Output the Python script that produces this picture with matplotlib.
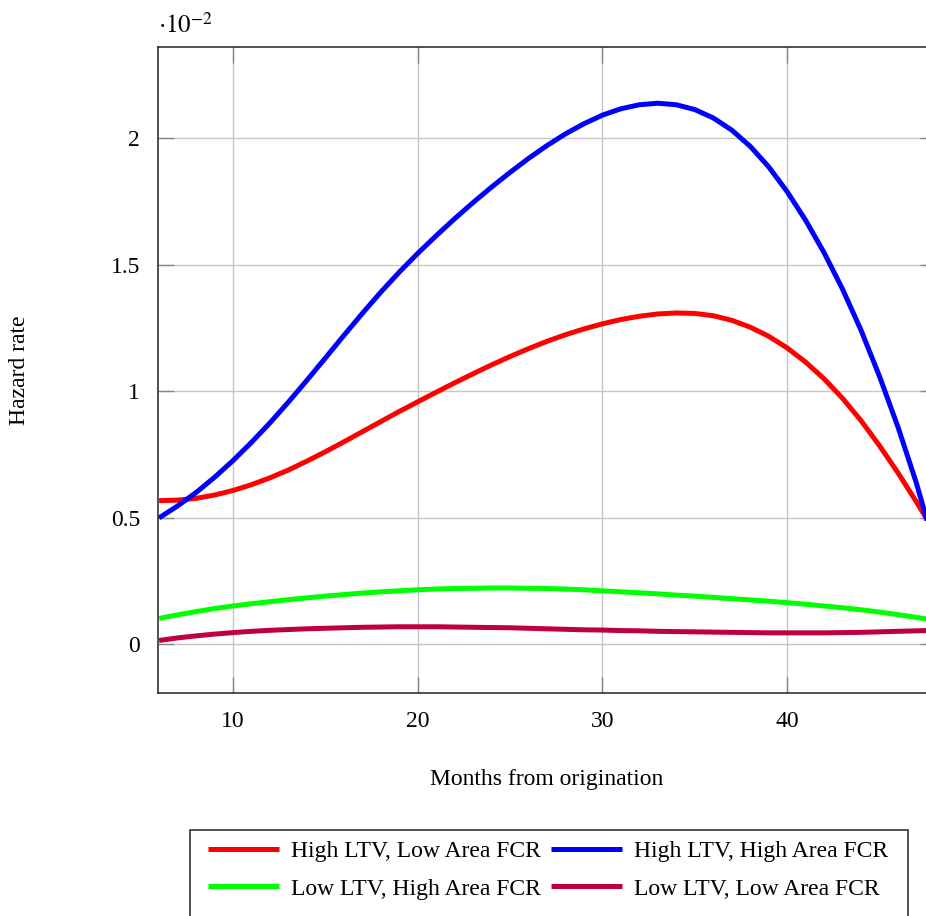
import matplotlib.pyplot as plt
from matplotlib.patches import Rectangle

# months from origination
months = [6, 7, 8, 9, 10, 11, 12, 13, 14, 15, 16, 17, 18, 19, 20, 21, 22, 23, 24, 25,
          26, 27, 28, 29, 30, 31, 32, 33, 34, 35, 36, 37, 38, 39, 40, 41, 42, 43, 44,
          45, 46, 47, 47.5, 48]

# hazard rate, in units of 1e-2
high_ltv_low_fcr = [0.568, 0.570, 0.577, 0.590, 0.608, 0.631, 0.658, 0.689, 0.724, 0.761,
                    0.800, 0.840, 0.880, 0.920, 0.958, 0.996, 1.033, 1.069, 1.104, 1.137,
                    1.168, 1.197, 1.223, 1.246, 1.266, 1.283, 1.296, 1.305, 1.309, 1.307,
                    1.298, 1.280, 1.253, 1.217, 1.171, 1.115, 1.049, 0.972, 0.884, 0.785,
                    0.678, 0.563, 0.503, 0.440]
high_ltv_high_fcr = [0.500, 0.547, 0.600, 0.660, 0.726, 0.798, 0.875, 0.957, 1.043, 1.131,
                     1.220, 1.307, 1.391, 1.470, 1.544, 1.614, 1.681, 1.745, 1.806, 1.864,
                     1.919, 1.970, 2.016, 2.056, 2.090, 2.115, 2.131, 2.137, 2.131, 2.112,
                     2.079, 2.031, 1.967, 1.886, 1.788, 1.675, 1.547, 1.403, 1.241, 1.059,
                     0.859, 0.637, 0.509, 0.374]
low_ltv_high_fcr = [0.103, 0.117, 0.130, 0.142, 0.152, 0.161, 0.169, 0.177, 0.184, 0.191,
                    0.197, 0.203, 0.208, 0.212, 0.216, 0.219, 0.221, 0.222, 0.223, 0.223,
                    0.222, 0.221, 0.219, 0.216, 0.212, 0.208, 0.204, 0.200, 0.195, 0.191,
                    0.186, 0.181, 0.176, 0.171, 0.165, 0.159, 0.152, 0.145, 0.137, 0.128,
                    0.118, 0.107, 0.101, 0.095]
low_ltv_low_fcr = [0.016, 0.026, 0.034, 0.041, 0.047, 0.052, 0.056, 0.059, 0.062, 0.064,
                   0.066, 0.068, 0.069, 0.070, 0.070, 0.070, 0.069, 0.068, 0.067, 0.066,
                   0.064, 0.062, 0.060, 0.058, 0.057, 0.055, 0.054, 0.052, 0.051, 0.050,
                   0.049, 0.048, 0.047, 0.046, 0.046, 0.046, 0.046, 0.047, 0.048, 0.050,
                   0.052, 0.054, 0.055, 0.056]

labels = ['High LTV, Low Area FCR', 'High LTV, High Area FCR',
          'Low LTV, High Area FCR', 'Low LTV, Low Area FCR']
colors = ['#ff0000', '#0000ff', '#00ff00', '#bf0040']

x_ticks = [10, 20, 30, 40]
y_ticks = [0, 0.5, 1, 1.5, 2]
y_tick_labels = ['0', '0.5', '1', '1.5', '2']

plt.rcParams['font.family'] = ['Liberation Serif', 'DejaVu Serif']
plt.rcParams['mathtext.fontset'] = 'stix'
plt.rc('font', size=17)

W, H = 926, 916
fig = plt.figure(figsize=(W / 100, H / 100), dpi=100)

# axes runs a little past the right edge, like the cropped original
left, right, top, bottom = 158, 936, 47, 693
ax = fig.add_axes([left / W, 1 - bottom / H, (right - left) / W, (bottom - top) / H])

series = [high_ltv_low_fcr, high_ltv_high_fcr, low_ltv_high_fcr, low_ltv_low_fcr]
handles = []
for vals, lab, col in zip(series, labels, colors):
    h, = ax.plot(months, vals, color=col, linewidth=3.6, label=lab,
                 solid_joinstyle='round', solid_capstyle='butt')
    handles.append(h)

ax.set_xlim(5.94, 48.06)
ax.set_ylim(-0.1915, 2.359)
ax.set_xticks(x_ticks)
ax.set_yticks(y_ticks)
ax.set_yticklabels(y_tick_labels)
ax.grid(True, color='#c6c6c6', linewidth=1.0)
ax.set_axisbelow(True)
ax.tick_params(direction='in', length=11.5, width=1.0, color='#888888',
               top=True, right=True, pad=13, labelsize=17)
for s in ax.spines.values():
    s.set_linewidth(1.1)
    s.set_color('#222222')
ax.spines['right'].set_visible(False)

fig.text(158 / W, 1 - 33 / H, r'$\cdot 10^{-2}$', fontsize=18, va='baseline', ha='left')
fig.text(20 / W, 1 - 370 / H, 'Hazard rate', rotation=90, ha='center', va='center')
fig.text(547 / W, 1 - 779 / H, 'Months from origination', ha='center', va='center')

# legend fills row by row: red, blue / green, purple
order = [0, 2, 1, 3]
leg = fig.legend([handles[i] for i in order], [labels[i] for i in order],
                 loc='center', ncol=2, frameon=False,
                 bbox_to_anchor=(548 / W, 1 - 870 / H),
                 handlelength=3.0, handletextpad=0.5, columnspacing=0.45,
                 labelspacing=0.68, fontsize=17)

# legend box, open at the bottom where the picture is cut
fig.patches.append(Rectangle((190 / W, -0.02), (908 - 190) / W, 0.02 + 1 - 830 / H,
                             transform=fig.transFigure, fill=False,
                             edgecolor='#222222', linewidth=1.1))

fig.savefig('out.png', dpi=100)
